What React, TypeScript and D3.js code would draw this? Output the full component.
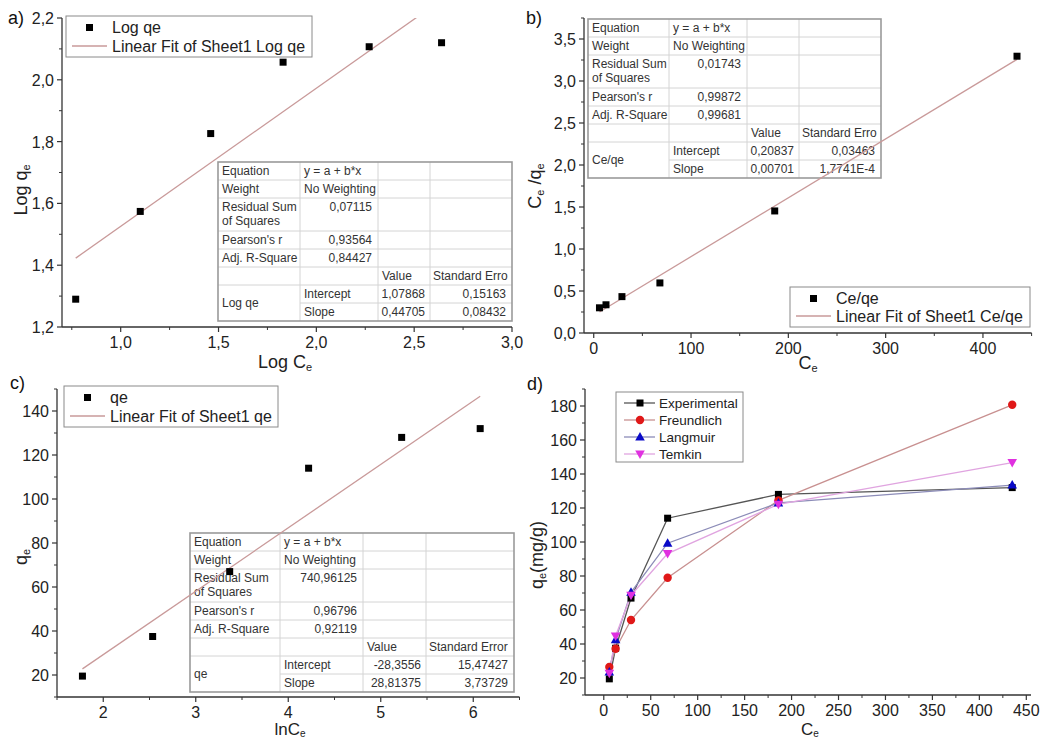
import React from "react";
import * as d3 from "d3";

const FONT = "'Liberation Sans', Arial, sans-serif";

// ---------------- data ----------------
const ceValues = [5.9, 12.6, 29, 68, 186, 435];
const qeValues = [19.5, 37.5, 67, 114, 128, 132];
const logCe = [0.77, 1.1, 1.46, 1.83, 2.27, 2.64];
const logQe = [1.29, 1.574, 1.826, 2.057, 2.107, 2.12];
const ceOverQe = [0.3, 0.336, 0.433, 0.596, 1.453, 3.295];
const lnCe = [1.775, 2.534, 3.367, 4.22, 5.226, 6.075];
const freundlichQe = [26.5, 37.2, 54.1, 79.0, 124.5, 180.7];
const langmuirQe = [23.6, 42.5, 70.4, 99.3, 123.0, 133.5];
const temkinQe = [22.8, 44.7, 68.7, 93.2, 122.2, 146.7];

// fit parameters: [intercept, slope]
const fitA = [1.07868, 0.44705];
const fitB = [0.20837, 0.00701];
const fitC = [-28.3556, 28.81375];

// tick values
const aXMajor = [1.0, 1.5, 2.0, 2.5, 3.0];
const aXMinor = [0.75, 1.25, 1.75, 2.25, 2.75];
const aYMajor = [1.2, 1.4, 1.6, 1.8, 2.0, 2.2];
const aYMinor = [1.3, 1.5, 1.7, 1.9, 2.1];
const bXMajor = [0, 100, 200, 300, 400];
const bXMinor = [50, 150, 250, 350, 450];
const bYMajor = [0, 0.5, 1.0, 1.5, 2.0, 2.5, 3.0, 3.5];
const bYMinor = [0.25, 0.75, 1.25, 1.75, 2.25, 2.75, 3.25, 3.75];
const cXMajor = [2, 3, 4, 5, 6];
const cXMinor = [1.5, 2.5, 3.5, 4.5, 5.5, 6.5];
const cYMajor = [20, 40, 60, 80, 100, 120, 140];
const cYMinor = [10, 30, 50, 70, 90, 110, 130, 150];
const dXMajor = [0, 50, 100, 150, 200, 250, 300, 350, 400, 450];
const dXMinor = [25, 75, 125, 175, 225, 275, 325, 375, 425];
const dYMajor = [20, 40, 60, 80, 100, 120, 140, 160, 180];
const dYMinor = [10, 30, 50, 70, 90, 110, 130, 150, 170, 190];

// table texts
const tableRowLabels = ["Equation", "Weight", "Residual Sum|of Squares", "Pearson's r", "Adj. R-Square"];
const tableAStats = ["0,07115", "0,93564", "0,84427"];
const tableBStats = ["0,01743", "0,99872", "0,99681"];
const tableCStats = ["740,96125", "0,96796", "0,92119"];
const tableAParams = ["Log qe", "1,07868", "0,15163", "0,44705", "0,08432"];
const tableBParams = ["Ce/qe", "0,20837", "0,03463", "0,00701", "1,7741E-4"];
const tableCParams = ["qe", "-28,3556", "15,47427", "28,81375", "3,73729"];

const dSeriesNames = ["Experimental", "Freundlich", "Langmuir", "Temkin"];

// ---------------- helpers ----------------
const fmtComma = (v: number) => d3.format(".1f")(v).replace(".", ",");
const fmtInt = (v: number) => d3.format("d")(v);

type Sc = d3.ScaleLinear<number, number>;

function Axes({ x, y, xMajor, xMinor, yMajor, yMinor, fx, fy }: any) {
  const [x0, x1] = (x as Sc).range();
  const [y0, y1] = (y as Sc).range();
  const col = "#333";
  return (
    <g>
      <line x1={x0} x2={x1} y1={y0} y2={y0} stroke={col} strokeWidth={1.3} />
      <line x1={x0} x2={x0} y1={y0} y2={y1} stroke={col} strokeWidth={1.3} />
      {xMajor.map((v: number) => (
        <g key={"xm" + v}>
          <line x1={x(v)} x2={x(v)} y1={y0} y2={y0 + 5} stroke={col} strokeWidth={1.2} />
          <text x={x(v)} y={y0 + 21} textAnchor="middle" fontSize={16} fill="#222" fontFamily={FONT}>
            {fx(v)}
          </text>
        </g>
      ))}
      {xMinor.map((v: number) => (
        <line key={"xn" + v} x1={x(v)} x2={x(v)} y1={y0} y2={y0 + 3} stroke={col} strokeWidth={1} />
      ))}
      {yMajor.map((v: number) => (
        <g key={"ym" + v}>
          <line x1={x0} x2={x0 - 5} y1={y(v)} y2={y(v)} stroke={col} strokeWidth={1.2} />
          <text x={x0 - 8} y={y(v) + 6} textAnchor="end" fontSize={16} fill="#222" fontFamily={FONT}>
            {fy(v)}
          </text>
        </g>
      ))}
      {yMinor.map((v: number) => (
        <line key={"yn" + v} x1={x0} x2={x0 - 3} y1={y(v)} y2={y(v)} stroke={col} strokeWidth={1} />
      ))}
    </g>
  );
}

function Squares({ x, y, xs, ys, size = 7 }: any) {
  return (
    <g>
      {xs.map((v: number, i: number) => (
        <rect key={i} x={x(v) - size / 2} y={y(ys[i]) - size / 2} width={size} height={size} fill="#000" />
      ))}
    </g>
  );
}

function FitLine({ x, y, xs, fit, clipId }: any) {
  const ext = d3.extent(xs as number[]) as [number, number];
  const pts: [number, number][] = ext.map((v) => [v, fit[0] + fit[1] * v]);
  const line = d3.line<[number, number]>().x((d) => x(d[0])).y((d) => y(d[1]));
  return <path d={line(pts) || ""} stroke="#c99a9a" strokeWidth={1.3} fill="none" clipPath={`url(#${clipId})`} />;
}

function ClipRect({ id, x, y }: any) {
  const [x0, x1] = (x as Sc).range();
  const [y0, y1] = (y as Sc).range();
  return (
    <clipPath id={id}>
      <rect x={x0} y={y1} width={x1 - x0} height={y0 - y1} />
    </clipPath>
  );
}

function StatsTable({ left, top, widths, stats, params }: any) {
  const heights = [18, 18, 33, 18, 18, 18, 18, 18];
  const rowY: number[] = [top];
  heights.forEach((h) => rowY.push(rowY[rowY.length - 1] + h));
  const colX: number[] = [left];
  (widths as number[]).forEach((w) => colX.push(colX[colX.length - 1] + w));
  const right = colX[4];
  const bottom = rowY[8];
  const fs = 12;
  const tc = "#333";
  const t = (x: number, yy: number, s: string, anchor = "start") => (
    <text x={x} y={yy} fontSize={fs} fill={tc} fontFamily={FONT} textAnchor={anchor}>
      {s}
    </text>
  );
  return (
    <g>
      <rect x={left} y={top} width={right - left} height={bottom - top} fill="#fff" />
      {rowY.slice(1, 8).map((ry, i) => (
        <line key={"r" + i} x1={i === 6 ? colX[1] : left} x2={right} y1={ry} y2={ry} stroke="#d4d4d4" strokeWidth={1} />
      ))}
      {colX.slice(1, 4).map((cx, i) => (
        <line key={"c" + i} x1={cx} x2={cx} y1={top} y2={bottom} stroke="#d4d4d4" strokeWidth={1} />
      ))}
      <rect x={left} y={top} width={right - left} height={bottom - top} fill="none" stroke="#9a9a9a" strokeWidth={1.6} />
      {tableRowLabels.map((lab, i) => {
        const parts = lab.split("|");
        return (
          <g key={"l" + i}>
            {parts.map((p, j) => (
              <g key={j}>{t(colX[0] + 4, rowY[i] + 13 + j * 14, p)}</g>
            ))}
          </g>
        );
      })}
      {t(colX[1] + 4, rowY[0] + 13, "y = a + b*x")}
      {t(colX[1] + 4, rowY[1] + 13, "No Weighting")}
      {stats.map((s: string, i: number) => (
        <g key={"s" + i}>{t(colX[2] - 6, rowY[i + 2] + 13, s, "end")}</g>
      ))}
      {t(colX[2] + 4, rowY[5] + 13, "Value")}
      {t(colX[3] + 3, rowY[5] + 13, widths[3] > 85 ? "Standard Error" : "Standard Erro")}
      {t(colX[0] + 4, (rowY[6] + rowY[8]) / 2 + 4, params[0])}
      {t(colX[1] + 4, rowY[6] + 13, "Intercept")}
      {t(colX[1] + 4, rowY[7] + 13, "Slope")}
      {t(colX[3] - 5, rowY[6] + 13, params[1], "end")}
      {t(colX[4] - 6, rowY[6] + 13, params[2], "end")}
      {t(colX[3] - 5, rowY[7] + 13, params[3], "end")}
      {t(colX[4] - 6, rowY[7] + 13, params[4], "end")}
    </g>
  );
}

function FitLegend({ left, top, width, height, name, fitName }: any) {
  const fs = 16;
  return (
    <g>
      <rect x={left} y={top} width={width} height={height} fill="#fff" stroke="#8a8a8a" strokeWidth={1} />
      <rect x={left + 20} y={top + 8} width={7} height={7} fill="#000" />
      <text x={left + 46} y={top + 17} fontSize={fs} fill="#222" fontFamily={FONT}>
        {name}
      </text>
      <line x1={left + 6} x2={left + 41} y1={top + height - 11} y2={top + height - 11} stroke="#c99a9a" strokeWidth={1.3} />
      <text x={left + 46} y={top + height - 5} fontSize={fs} fill="#222" fontFamily={FONT}>
        {fitName}
      </text>
    </g>
  );
}

function Marker({ kind, cx, cy, color }: any) {
  if (kind === "square") return <rect x={cx - 3.5} y={cy - 3.5} width={7} height={7} fill={color} />;
  if (kind === "circle") return <circle cx={cx} cy={cy} r={4.2} fill={color} />;
  if (kind === "up") return <path d={`M${cx},${cy - 5} L${cx + 4.8},${cy + 3.5} L${cx - 4.8},${cy + 3.5} Z`} fill={color} />;
  return <path d={`M${cx},${cy + 5} L${cx + 4.8},${cy - 3.5} L${cx - 4.8},${cy - 3.5} Z`} fill={color} />;
}

// ---------------- app ----------------
export default function App() {
  // panel a
  const ax = d3.scaleLinear().domain([0.7, 3.0]).range([62, 512]);
  const ay = d3.scaleLinear().domain([1.2, 2.2]).range([327, 18]);
  // panel b
  const bx = d3.scaleLinear().domain([-10, 450]).range([584, 1031.6]);
  const by = d3.scaleLinear().domain([0, 3.75]).range([333, 18]);
  // panel c
  const cx = d3.scaleLinear().domain([1.5, 6.5]).range([57, 519.5]);
  const cy = d3.scaleLinear().domain([10, 150]).range([697, 389]);
  // panel d
  const dx = d3.scaleLinear().domain([-20, 455]).range([585, 1031]);
  const dy = d3.scaleLinear().domain([10, 190]).range([695, 389]);

  const dSeries = [
    { name: dSeriesNames[0], values: qeValues, marker: "square", color: "#000", line: "#555" },
    { name: dSeriesNames[1], values: freundlichQe, marker: "circle", color: "#e01818", line: "#c89090" },
    { name: dSeriesNames[2], values: langmuirQe, marker: "up", color: "#0a0ac8", line: "#8c8cb8" },
    { name: dSeriesNames[3], values: temkinQe, marker: "down", color: "#e030e0", line: "#e0a4e0" },
  ];
  const dLine = d3
    .line<number>()
    .x((_, i) => dx(ceValues[i]))
    .y((v) => dy(v));

  const label = (x: number, y: number, s: string) => (
    <text x={x} y={y} fontSize={18} fill="#111" fontFamily={FONT}>
      {s}
    </text>
  );
  const titleProps = { fontSize: 18, fill: "#222", fontFamily: FONT };
  const sub = { fontSize: 11, baselineShift: "-25%" } as any;
  const subLow = { fontSize: 10, baselineShift: "-1.5px" } as any;

  return (
    <svg
      width={1042}
      height={739}
      style={{ position: "absolute", left: 0, top: 0, background: "#fff" }}
      xmlns="http://www.w3.org/2000/svg"
    >
      <defs>
        <ClipRect id="clipA" x={ax} y={ay} />
        <ClipRect id="clipB" x={bx} y={by} />
        <ClipRect id="clipC" x={cx} y={cy} />
      </defs>
      <rect x={0} y={0} width={1042} height={739} fill="#fff" />

      {/* ---------- panel a ---------- */}
      <Axes x={ax} y={ay} xMajor={aXMajor} xMinor={aXMinor} yMajor={aYMajor} yMinor={aYMinor} fx={fmtComma} fy={fmtComma} />
      <StatsTable left={218} top={162} widths={[82, 78, 52, 82]} stats={tableAStats} params={tableAParams} />
      <FitLine x={ax} y={ay} xs={logCe} fit={fitA} clipId="clipA" />
      <Squares x={ax} y={ay} xs={logCe} ys={logQe} />
      <FitLegend left={66} top={16} width={246} height={41} name="Log qe" fitName="Linear Fit of Sheet1 Log qe" />
      {label(8, 24, "a)")}
      <text x={285} y={368} textAnchor="middle" {...titleProps}>
        Log C<tspan {...sub}>e</tspan>
      </text>
      <text transform="translate(27,190) rotate(-90)" textAnchor="middle" {...titleProps}>
        Log q<tspan {...sub}>e</tspan>
      </text>

      {/* ---------- panel b ---------- */}
      <Axes x={bx} y={by} xMajor={bXMajor} xMinor={bXMinor} yMajor={bYMajor} yMinor={bYMinor} fx={fmtInt} fy={fmtComma} />
      <StatsTable left={588} top={19} widths={[81, 78, 52, 82]} stats={tableBStats} params={tableBParams} />
      <FitLine x={bx} y={by} xs={ceValues} fit={fitB} clipId="clipB" />
      <Squares x={bx} y={by} xs={ceValues} ys={ceOverQe} />
      <FitLegend left={790} top={287} width={240} height={40} name="Ce/qe" fitName="Linear Fit of Sheet1 Ce/qe" />
      {label(526, 24, "b)")}
      <text x={808} y={369} textAnchor="middle" {...titleProps}>
        C<tspan {...sub}>e</tspan>
      </text>
      <text transform="translate(541,186) rotate(-90)" textAnchor="middle" {...titleProps}>
        C<tspan {...sub}>e</tspan>
        <tspan baselineShift="0%" fontSize={18}> /q</tspan>
        <tspan {...sub}>e</tspan>
      </text>

      {/* ---------- panel c ---------- */}
      <Axes x={cx} y={cy} xMajor={cXMajor} xMinor={cXMinor} yMajor={cYMajor} yMinor={cYMinor} fx={fmtInt} fy={fmtInt} />
      <StatsTable left={190} top={533} widths={[90, 83, 63, 88]} stats={tableCStats} params={tableCParams} />
      <FitLine x={cx} y={cy} xs={lnCe} fit={fitC} clipId="clipC" />
      <Squares x={cx} y={cy} xs={lnCe} ys={qeValues} />
      <FitLegend left={64} top={386} width={214} height={41} name="qe" fitName="Linear Fit of Sheet1 qe" />
      {label(10, 389, "c)")}
      <text x={290} y={735} textAnchor="middle" fontSize={17} fill="#222" fontFamily={FONT}>
        lnC<tspan {...subLow}>e</tspan>
      </text>
      <text transform="translate(27,557) rotate(-90)" textAnchor="middle" {...titleProps}>
        q<tspan {...sub}>e</tspan>
      </text>

      {/* ---------- panel d ---------- */}
      <Axes x={dx} y={dy} xMajor={dXMajor} xMinor={dXMinor} yMajor={dYMajor} yMinor={dYMinor} fx={fmtInt} fy={fmtInt} />
      {dSeries.map((s) => (
        <path key={"l" + s.name} d={dLine(s.values) || ""} stroke={s.line} strokeWidth={1.3} fill="none" />
      ))}
      {dSeries.map((s) => (
        <g key={"m" + s.name}>
          {s.values.map((v, i) => (
            <Marker key={i} kind={s.marker} cx={dx(ceValues[i])} cy={dy(v)} color={s.color} />
          ))}
        </g>
      ))}
      <g>
        <rect x={616} y={392} width={127} height={70} fill="#fff" stroke="#8a8a8a" strokeWidth={1} />
        {dSeries.map((s, i) => {
          const yy = 403 + i * 17;
          return (
            <g key={"lg" + s.name}>
              <line x1={624} x2={655} y1={yy} y2={yy} stroke={s.line} strokeWidth={1.3} />
              <Marker kind={s.marker} cx={640} cy={yy} color={s.color} />
              <text x={659} y={yy + 5} fontSize={13.5} fill="#222" fontFamily={FONT}>
                {s.name}
              </text>
            </g>
          );
        })}
      </g>
      {label(527, 390, "d)")}
      <text x={810} y={735} textAnchor="middle" fontSize={17} fill="#222" fontFamily={FONT}>
        C<tspan {...subLow}>e</tspan>
      </text>
      <text transform="translate(543,555) rotate(-90)" textAnchor="middle" {...titleProps}>
        q<tspan {...sub}>e</tspan>
        <tspan fontSize={18} baselineShift="0%">(mg/g)</tspan>
      </text>
    </svg>
  );
}
